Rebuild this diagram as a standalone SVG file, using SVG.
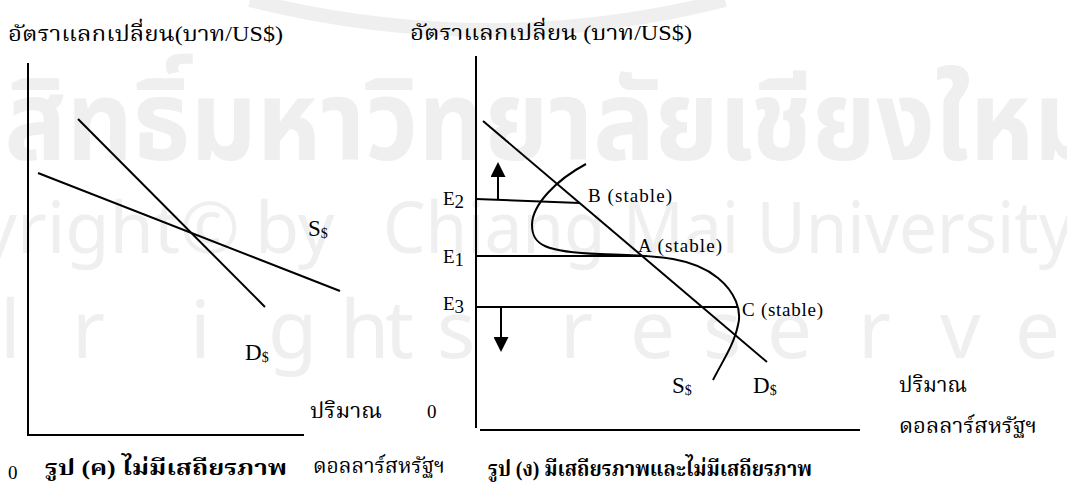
<svg xmlns="http://www.w3.org/2000/svg" width="1067" height="486" viewBox="0 0 1067 486">
<style>
.wm{fill:#efefef;font-family:"Noto Sans","DejaVu Sans",sans-serif;}
.wmt{fill:#efefef;font-family:"Noto Sans Thai","Noto Serif Thai","Loma","Garuda",sans-serif;font-weight:bold;}
.ln{stroke:#000;stroke-width:2;fill:none;}
.th{font-family:"Liberation Serif","Noto Serif Thai","Noto Sans Thai",serif;font-size:21px;fill:#000;}
.thb{font-family:"Liberation Serif","Noto Serif Thai","Noto Sans Thai",serif;font-size:22px;font-weight:bold;fill:#000;}
.lt{font-family:"Liberation Serif",serif;fill:#000;}
.big{font-size:23px;}
.sub{font-size:14px;}
.lbl{font-size:19px;}
.el{font-size:19px;}
</style>
<defs>
<marker id="ah" markerWidth="16" markerHeight="15" refX="0" refY="7.5" orient="auto" markerUnits="userSpaceOnUse">
<path d="M0,0 L15,7.5 L0,15 Z" fill="#000"/>
</marker>
</defs>
<rect width="1067" height="486" fill="#fff"/>
<g id="watermark">
<path d="M250,0 Q490,60 725,0" stroke="#efefef" stroke-width="14" fill="none"/>
<text class="wmt" x="-118" y="160" font-size="112" textLength="1218" lengthAdjust="spacingAndGlyphs">ลิขสิทธิ์มหาวิทยาลัยเชียงใหม่</text>
<text class="wm" x="240" y="253" font-size="72" text-anchor="end">Copyright©</text>
<text class="wm" x="255" y="253" font-size="72">by</text>
<text class="wm" x="383" y="253" font-size="72" textLength="690" lengthAdjust="spacingAndGlyphs">Chiang Mai University</text>
<text class="wm" y="358" font-size="80" x="0 72 190 268 340 385 437 560 630 703 767 858 940 1015 1085">lrightsreserved</text>
</g>
<g id="left-chart">
<text class="th" x="8" y="41" textLength="275" lengthAdjust="spacingAndGlyphs">อัตราแลกเปลี่ยน(บาท/US$)</text>
<path class="ln" d="M28,63 V436 M27,435 H304"/>
<g id="left-demand">
<path class="ln" d="M78,119 L265,307"/>
<text class="lt" x="245" y="360"><tspan class="big">D</tspan><tspan class="sub" dy="2">$</tspan></text>
</g>
<g id="left-supply">
<path class="ln" d="M38,173 L340,291"/>
<text class="lt" x="308" y="236"><tspan class="big">S</tspan><tspan class="sub" dy="2">$</tspan></text>
</g>
<text class="th" x="310" y="418" textLength="72" lengthAdjust="spacingAndGlyphs">ปริมาณ</text>
<text class="lt lbl" x="427" y="418">0</text>
<text class="th" x="313" y="473" textLength="132" lengthAdjust="spacingAndGlyphs">ดอลลาร์สหรัฐฯ</text>
<text class="lt lbl" x="8" y="479">0</text>
<text class="thb" x="45" y="475" textLength="242" lengthAdjust="spacingAndGlyphs">รูป (ค) ไม่มีเสถียรภาพ</text>
</g>
<g id="right-chart">
<text class="th" x="410" y="40" textLength="282" lengthAdjust="spacingAndGlyphs">อัตราแลกเปลี่ยน (บาท/US$)</text>
<path class="ln" d="M476,56 V428 M480,430 H860"/>
<g id="right-demand">
<path class="ln" d="M483,121 L767,362"/>
<text class="lt" x="753" y="393"><tspan class="big">D</tspan><tspan class="sub" dy="2">$</tspan></text>
</g>
<g id="right-supply">
<path class="ln" d="M586,164 C556,180 532,205 532,225 C532,245 545,252 600,254 C650,256 690,255 718,278 C735,292 742,310 738,325 C734,345 722,362 713,380"/>
<text class="lt" x="672" y="393"><tspan class="big">S</tspan><tspan class="sub" dy="2">$</tspan></text>
</g>
<g id="level-e2">
<path class="ln" d="M476,199 L580,203"/>
<text class="lt el" x="443" y="205">E<tspan dy="3">2</tspan></text>
</g>
<g id="level-e1">
<path class="ln" d="M476,256 H642"/>
<text class="lt el" x="443" y="263">E<tspan dy="3">1</tspan></text>
</g>
<g id="level-e3">
<path class="ln" d="M476,307 H738"/>
<text class="lt el" x="443" y="310">E<tspan dy="3">3</tspan></text>
</g>
<g id="point-b"><text class="lt lbl" x="588" y="202" textLength="84">B (stable)</text></g>
<g id="point-a"><text class="lt lbl" x="638" y="252" textLength="84">A (stable)</text></g>
<g id="point-c"><text class="lt lbl" x="742" y="316" textLength="81">C (stable)</text></g>
<text class="th" x="899" y="392" textLength="68" lengthAdjust="spacingAndGlyphs">ปริมาณ</text>
<text class="th" x="899" y="433" textLength="138" lengthAdjust="spacingAndGlyphs">ดอลลาร์สหรัฐฯ</text>
<text class="thb" x="488" y="476" textLength="324" lengthAdjust="spacingAndGlyphs">รูป (ง) มีเสถียรภาพและไม่มีเสถียรภาพ</text>
</g>
<g id="connectors">
<path class="ln" d="M498,199 V177" marker-end="url(#ah)"/>
<path class="ln" d="M501,307 V337" marker-end="url(#ah)"/>
</g>
</svg>
